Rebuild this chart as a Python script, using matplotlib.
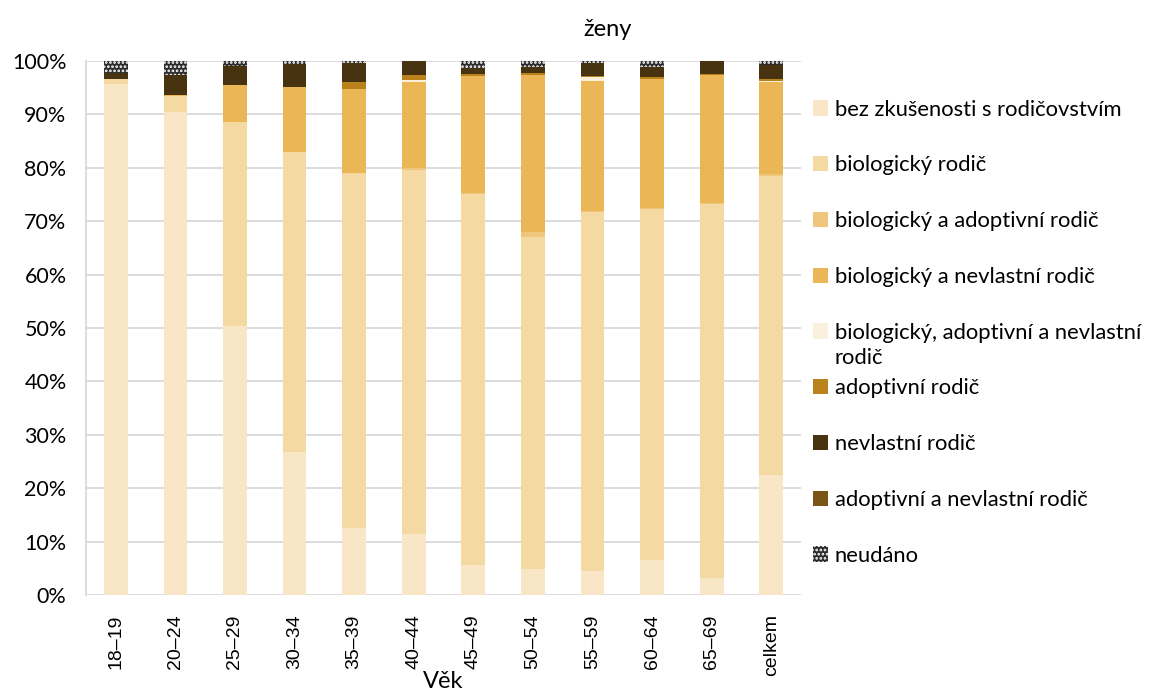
import numpy as np
import matplotlib
matplotlib.use('Agg')
from matplotlib import pyplot as plt

plt.rcParams['font.family'] = ['Lato', 'DejaVu Sans']
plt.rcParams['hatch.linewidth'] = 1.3

# kategorie a hodnoty (%)
vek = ['18–19', '20–24', '25–29', '30–34', '35–39', '40–44',
       '45–49', '50–54', '55–59', '60–64', '65–69', 'celkem']

bez = [95.7, 90.4, 50.3, 26.7, 12.6, 11.4, 5.6, 4.8, 4.5, 6.6, 3.2, 22.4]
biol = [1.0, 3.0, 38.3, 56.2, 66.4, 68.1, 69.4, 62.2, 67.3, 65.7, 70.1, 56.1]
biol_adopt = [0.0, 0.0, 0.0, 0.0, 0.1, 0.5, 0.3, 1.0, 0.1, 0.1, 0.1, 0.3]
biol_nevl = [0.0, 0.3, 6.9, 12.3, 15.6, 16.1, 21.9, 29.4, 24.4, 24.2, 24.0, 17.2]
biol_adopt_nevl = [0.0, 0.0, 0.0, 0.0, 0.0, 0.4, 0.0, 0.0, 0.75, 0.0, 0.0, 0.25]
adopt = [0.0, 0.0, 0.0, 0.0, 1.3, 0.8, 0.3, 0.3, 0.1, 0.4, 0.2, 0.3]
nevl = [1.1, 3.7, 3.6, 4.3, 3.6, 2.7, 1.1, 1.2, 2.4, 1.8, 2.4, 2.7]
adopt_nevl = [0.0, 0.0, 0.0, 0.0, 0.0, 0.0, 0.0, 0.0, 0.0, 0.0, 0.0, 0.0]
neudano = [2.2, 2.6, 0.9, 0.5, 0.4, 0.0, 1.4, 1.1, 0.45, 1.2, 0.0, 0.75]

serie = [
    ('bez zkušenosti s rodičovstvím', bez, '#F8E6C6'),
    ('biologický rodič', biol, '#F4D9A2'),
    ('biologický a adoptivní rodič', biol_adopt, '#EFC77C'),
    ('biologický a nevlastní rodič', biol_nevl, '#EBB655'),
    ('biologický, adoptivní a nevlastní', biol_adopt_nevl, '#FBF0DE'),
    ('adoptivní rodič', adopt, '#B9821B'),
    ('nevlastní rodič', nevl, '#47330F'),
    ('adoptivní a nevlastní rodič', adopt_nevl, '#7A5518'),
]

fig = plt.figure(figsize=(11.52, 6.93), dpi=100)
ax = fig.add_axes([0.0747, 0.1414, 0.6206, 0.7706])

x = np.arange(len(vek))
w = 0.4
spodek = np.zeros(len(vek))
for nazev, hodnoty, barva in serie:
    ax.bar(x, hodnoty, w, bottom=spodek, color=barva, linewidth=0, label=nazev, zorder=2)
    spodek += np.array(hodnoty)
ax.bar(x, neudano, w, bottom=spodek, facecolor='#2b2b2b', edgecolor='white',
       hatch='....', linewidth=0, label='neudáno', zorder=2)

ax.set_xlim(-0.5, len(vek) - 0.5)
ax.set_ylim(0, 100)
ax.set_yticks(np.arange(0, 101, 10))
ax.set_yticklabels([f'{v}%' for v in range(0, 101, 10)], fontsize=15.5)
ax.set_xticks(x)
ax.set_xticklabels(vek, rotation=90, fontsize=14, family=['Liberation Sans', 'DejaVu Sans'])
ax.tick_params(length=0)
ax.tick_params(axis='x', pad=14)
ax.tick_params(axis='y', pad=14)
ax.grid(axis='y', color='#D9D9D9', linewidth=1.3, zorder=0)
for s in ['top', 'right', 'bottom']:
    ax.spines[s].set_visible(False)
ax.spines['left'].set_color('#D9D9D9')
ax.spines['left'].set_linewidth(1.3)

ax.set_xlabel('Věk', fontsize=17, labelpad=-4)
fig.text(0.527, 0.958, 'ženy', fontsize=17, ha='center', va='center')

leg = fig.legend(loc='upper left', bbox_to_anchor=(0.698, 0.869), frameon=False,
                 fontsize=15.8, handlelength=0.7, handleheight=0.7, handletextpad=0.3,
                 labelspacing=1.63, borderaxespad=0)

# druhý řádek páté položky legendy
fig.canvas.draw()
t = leg.get_texts()[4]
bb = t.get_window_extent().transformed(fig.transFigure.inverted())
fig.text(bb.x0, bb.y0 - 0.008, 'rodič', fontsize=15.8, va='top', ha='left')

fig.savefig('out.png', dpi=100)
